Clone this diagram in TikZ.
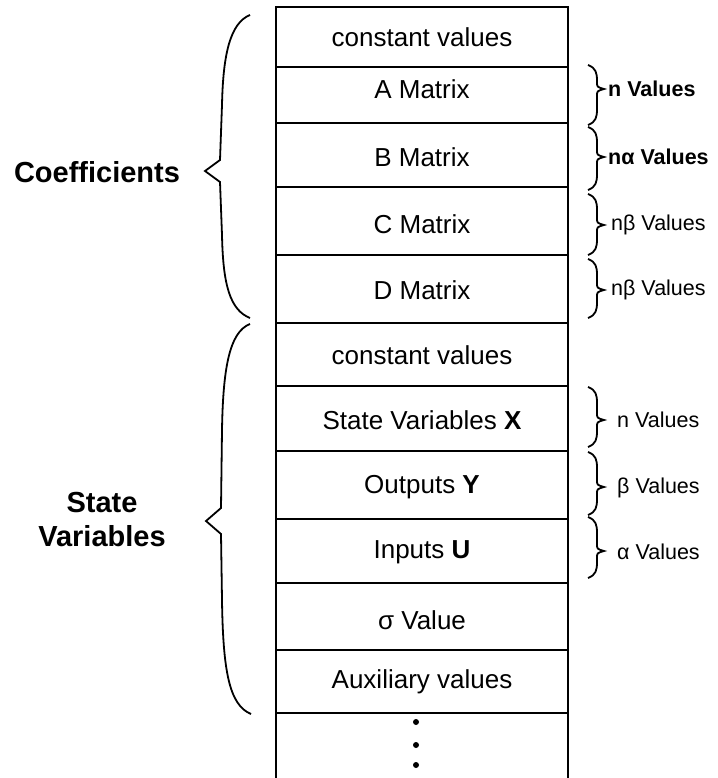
\documentclass[tikz,border=0pt]{standalone}
\usepackage{fontspec}
\setmainfont{Liberation Sans}
\begin{document}
\begin{tikzpicture}[x=1pt,y=-1pt,
  frame/.style={line width=2.4pt},
  rowline/.style={line width=1.4pt},
  bracestroke/.style={line width=1.8pt, line join=miter},
  cell/.style={font=\fontsize{26}{31}\selectfont, inner sep=0pt},
  sidelabel/.style={font=\fontsize{21.5}{26}\selectfont, anchor=west, inner sep=0pt},
  sidelabelbold/.style={sidelabel, font=\fontsize{21.5}{26}\selectfont\bfseries},
  grouplabel/.style={font=\fontsize{29}{35}\selectfont\bfseries, align=center, inner sep=0pt}]
\useasboundingbox (0,0) rectangle (717,778);

% memory column: outer frame (open at the bottom) and row separators
\draw[frame] (276,778) -- (276,7) -- (568,7) -- (568,778);
\foreach \yy in {67,123,187,255,323,386,451,519,583,650,713}
  \draw[rowline] (276,\yy) -- (568,\yy);

% cell contents
\node[cell] (cv1)  at (422,37)  {constant values};
\node[cell] (amat) at (422,89)  {A Matrix};
\node[cell] (bmat) at (422,157) {B Matrix};
\node[cell] (cmat) at (422,224) {C Matrix};
\node[cell] (dmat) at (422,290) {D Matrix};
\node[cell] (cv2)  at (422,355) {constant values};
\node[cell] (xvar) at (422,420) {State Variables \textbf{X}};
\node[cell] (yout) at (422,487) {Outputs \textbf{Y}};
\node[cell] (uin)  at (422,552) {Inputs \textbf{U}};
\node[cell] (sig)  at (422,620) {σ Value};
\node[cell] (aux)  at (422,682) {Auxiliary values};

% continuation dots
\foreach \yy in {722,745,765}
  \fill (416,\yy) circle (3);

% small right-hand brace: top y, bottom y, tip y
\newcommand{\sidebraceR}[3]{%
  \draw[bracestroke] (588,#1) .. controls (596,#1+3) and (597,#1+8) .. (597,#1+16)
    -- (597,#3-7) .. controls (597,#3-2) .. (604,#3)
    .. controls (597,#3+2) .. (597,#3+7)
    -- (597,#2-16) .. controls (597,#2-8) and (596,#2-3) .. (588,#2);}

\sidebraceR{65}{125}{89}
\sidebraceR{127}{190}{157}
\sidebraceR{194}{255}{225}
\sidebraceR{259}{318}{290}
\sidebraceR{387}{447}{420}
\sidebraceR{452}{515}{487}
\sidebraceR{517}{578}{551}

\node[sidelabelbold] (lblA) at (608,89)  {n Values};
\node[sidelabelbold] (lblB) at (608,157) {nα Values};
\node[sidelabel] (lblC) at (611,225) {nβ Values};
\node[sidelabel] (lblD) at (611,290) {nβ Values};
\node[sidelabel] (lblX) at (617,420) {n Values};
\node[sidelabel] (lblY) at (617,488) {β Values};
\node[sidelabel] (lblU) at (617,552) {α Values};

% large left-hand braces
\draw[bracestroke] (250,15) .. controls (230,23) and (223,55) .. (222,105)
  -- (220,160) -- (205,171) -- (220,182)
  -- (222,235) .. controls (223,285) and (230,310) .. (250,318);
\draw[bracestroke] (250,324) .. controls (229,332) and (223,370) .. (222,430)
  -- (221,508) -- (206,521) -- (221,534)
  -- (222,600) .. controls (223,670) and (229,705) .. (251,714);

\node[grouplabel] (coef) at (97,172) {Coefficients};
\node[grouplabel] (svar) at (102,520) {State\\[-1pt]Variables};
\end{tikzpicture}
\end{document}
